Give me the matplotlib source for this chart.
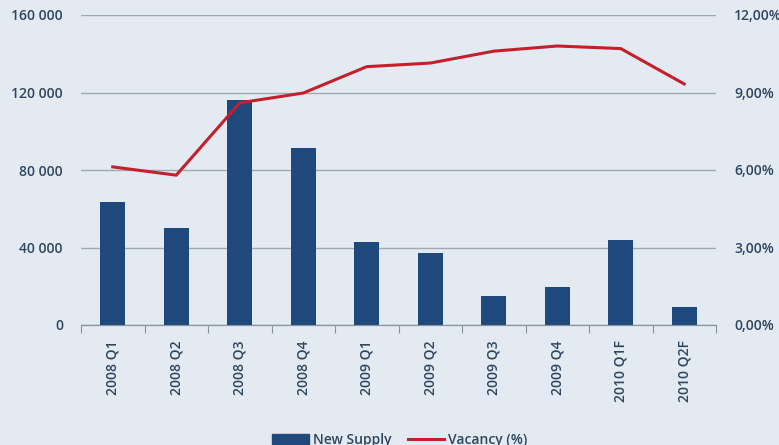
import matplotlib.pyplot as plt
from matplotlib.lines import Line2D
from matplotlib.patches import Patch
from matplotlib.ticker import FuncFormatter

quarters = ["2008 Q1", "2008 Q2", "2008 Q3", "2008 Q4", "2009 Q1",
            "2009 Q2", "2009 Q3", "2009 Q4", "2010 Q1F", "2010 Q2F"]
new_supply = [63500, 50000, 116000, 91300, 42800, 37000, 15000, 19600, 43900, 9300]
vacancy = [6.12, 5.8, 8.6, 8.98, 10.0, 10.14, 10.6, 10.8, 10.7, 9.33]

bg = "#e4eaf1"
txt = "#2e4660"
bar_col = "#1f487c"
line_col = "#c4202b"

plt.rcParams["font.family"] = ["Open Sans", "DejaVu Sans"]

fig = plt.figure(figsize=(7.79, 4.45), dpi=100, facecolor=bg)
ax = fig.add_axes([81 / 779, 1 - 325 / 445, 635 / 779, 310 / 445], facecolor=bg)
ax2 = ax.twinx()

x = range(len(quarters))
ax.bar(x, new_supply, width=0.4, color=bar_col, zorder=3)
ax.set_xlim(-0.5, len(quarters) - 0.5)
ax.set_ylim(0, 160000)
ax.set_yticks(range(0, 160001, 40000))
ax.yaxis.set_major_formatter(FuncFormatter(lambda v, p: f"{int(v):,}".replace(",", " ")))
ax.grid(axis="y", color="#a0a8b1", linewidth=1.0, zorder=0)

ax2.plot(x, vacancy, color=line_col, linewidth=2.2, zorder=4)
ax2.set_ylim(0, 12)
ax2.set_yticks(range(0, 13, 3))
ax2.yaxis.set_major_formatter(FuncFormatter(lambda v, p: f"{v:.2f}%".replace(".", ",")))

for a in (ax, ax2):
    for s in ("top", "left", "right"):
        a.spines[s].set_visible(False)
    a.spines["bottom"].set_color("#8a939c")
    a.tick_params(axis="y", length=0, labelsize=10, labelcolor=txt, pad=13)

# category separators as major ticks, labels on minor ticks
ax.set_xticks([i - 0.5 for i in range(len(quarters) + 1)], minor=False)
ax.set_xticklabels([])
ax.tick_params(axis="x", which="major", length=6, color="#8a939c", direction="out")
ax.set_xticks(list(x), minor=True)
ax.set_xticklabels(quarters, minor=True, rotation=90, fontsize=10,
                   color=txt, fontweight="semibold")
ax.tick_params(axis="x", which="minor", length=0, pad=11)
for lbl in ax.get_yticklabels() + ax2.get_yticklabels():
    lbl.set_fontweight("semibold")

handles = [Patch(color=bar_col), Line2D([0], [0], color=line_col, linewidth=2.2)]
leg = fig.legend(handles, ["New Supply", "Vacancy (%)"], loc="center",
                 bbox_to_anchor=(400 / 779, 1 - 440 / 445), ncol=2, frameon=False,
                 fontsize=10, handlelength=2.6, handletextpad=0.3, columnspacing=1.2)
for t in leg.get_texts():
    t.set_color(txt)
    t.set_fontweight("semibold")

fig.savefig("out.png", dpi=100, facecolor=bg)
